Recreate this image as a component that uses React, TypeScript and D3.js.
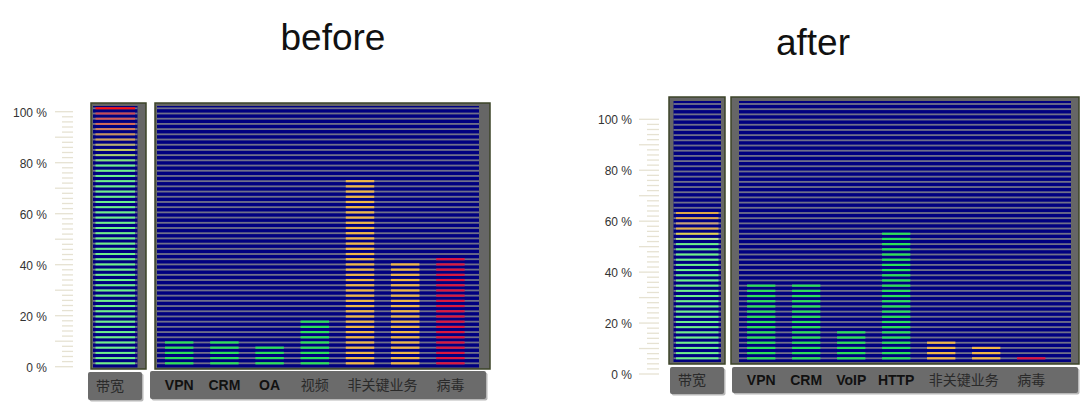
import * as d3 from "d3";

// values, in percent (one LED row = 2 %)
const axisTicks = [0, 20, 40, 60, 80, 100];

const beforeCategories = ["VPN", "CRM", "OA", "视频", "非关键业务", "非关键业务", "病毒"];
const beforeValues = [10, 10, 8, 18, 72, 40, 42];
const beforeBandwidth = 100;

const afterCategories = ["VPN", "CRM", "VoIP", "HTTP", "非关键业务", "非关键业务", "病毒"];
const afterValues = [30, 30, 12, 50, 8, 6, 2];
const afterBandwidth = 58;

const ROW_VALUES = d3.range(2, 101, 2);

const NAVY = "#000080";
const ROW_GRAY = "#6f6f8a";
const PANEL_GRAY = "#666666";
const PANEL_BORDER = "#3d4428";
const GREEN = "#2fe05a";
const BW_GREEN = "#6cf08c";
const LATIN = "'Liberation Sans', Arial, sans-serif";
const CJK = "'Noto Sans CJK SC', sans-serif";

const barColor = (label: string) =>
  label === "病毒" ? "#dc1840" : label === "非关键业务" ? "#f0b848" : GREEN;

// bandwidth meter colours, by row value
const beforeBwColor = d3
  .scaleLinear<string>()
  .domain([78, 80, 82, 84, 86, 88, 90, 92, 94, 96, 98, 100])
  .range([BW_GREEN, "#80e080", "#a8d070", "#c4c860", "#b8b070", "#d0a060", "#c89060", "#d08060", "#d46a58", "#d05a5a", "#c84858", "#ff1010"])
  .clamp(true);

const afterBwColor = d3
  .scaleLinear<string>()
  .domain([46, 48, 50, 52, 54, 56, 58])
  .range([BW_GREEN, "#b8e090", "#e0d050", "#e0b050", "#c8a078", "#e0a850", "#e0a848"])
  .clamp(true);

type Box = { x0: number; y0: number; x1: number; y1: number };

type Layout = {
  title: { x: number; y: number };
  axis: { labelX: number; majorX: number; minorX: number; tickEnd: number; y0: number; y100: number };
  rows: { bottom: number; top: number };
  bwOuter: Box;
  bwNavy: Box;
  mainOuter: Box;
  mainNavy: Box;
  bandStart: number;
  bandStep: number;
  bwLabel: Box;
  mainLabel: Box;
};

const BEFORE: Layout = {
  title: { x: 333, y: 50 },
  axis: { labelX: 47, majorX: 55, minorX: 62, tickEnd: 73, y0: 366.7, y100: 111.7 },
  rows: { bottom: 363.3, top: 108.3 },
  bwOuter: { x0: 91, y0: 103, x1: 146, y1: 369 },
  bwNavy: { x0: 93, y0: 106, x1: 137.5, y1: 367.5 },
  mainOuter: { x0: 155, y0: 103, x1: 490, y1: 369 },
  mainNavy: { x0: 157, y0: 106, x1: 479, y1: 367.5 },
  bandStart: 156.6,
  bandStep: 45.2,
  bwLabel: { x0: 88, y0: 372, x1: 142, y1: 400 },
  mainLabel: { x0: 150, y0: 371, x1: 486, y1: 399 },
};

const AFTER: Layout = {
  title: { x: 813, y: 55 },
  axis: { labelX: 632, majorX: 639, minorX: 647, tickEnd: 659, y0: 374, y100: 119.3 },
  rows: { bottom: 358.3, top: 104 },
  bwOuter: { x0: 669, y0: 97, x1: 725, y1: 364 },
  bwNavy: { x0: 673.5, y0: 101, x1: 721, y1: 362 },
  mainOuter: { x0: 731, y0: 97, x1: 1079, y1: 364 },
  mainNavy: { x0: 739, y0: 101, x1: 1071, y1: 362 },
  bandStart: 738.7,
  bandStep: 45,
  bwLabel: { x0: 670, y0: 367, x1: 724, y1: 394 },
  mainLabel: { x0: 732, y0: 367, x1: 1078, y1: 393 },
};

const rect = (b: Box, props: any) => (
  <rect x={b.x0} y={b.y0} width={b.x1 - b.x0} height={b.y1 - b.y0} {...props} />
);

const isLatin = (s: string) => /^[A-Za-z]+$/.test(s);

type PanelProps = {
  layout: Layout;
  title: string;
  categories: string[];
  values: number[];
  bandwidth: number;
  bwColor: (v: number) => string;
};

const Panel = ({ layout, title, categories, values, bandwidth, bwColor }: PanelProps) => {
  const { axis, rows } = layout;

  const yAxis = d3.scaleLinear().domain([0, 100]).range([axis.y0, axis.y100]);
  const yRow = d3.scaleLinear().domain([2, 100]).range([rows.bottom, rows.top]);

  const xScale = d3
    .scaleBand<number>()
    .domain(d3.range(categories.length))
    .range([layout.bandStart, layout.bandStart + layout.bandStep * categories.length])
    .paddingInner(0.37)
    .paddingOuter(0.185);

  // merge neighbouring bars that share one label
  const labelGroups: { label: string; from: number; to: number }[] = [];
  categories.forEach((c, i) => {
    const last = labelGroups[labelGroups.length - 1];
    if (last && last.label === c) last.to = i;
    else labelGroups.push({ label: c, from: i, to: i });
  });

  const minorTicks = d3.range(0, 101, 2);
  const lineH = 1.8;
  const litH = 2.2;

  return (
    <g>
      <text
        x={layout.title.x}
        y={layout.title.y}
        textAnchor="middle"
        fontFamily={LATIN}
        fontSize={37}
        fill="#111"
      >
        {title}
      </text>

      {/* Y axis */}
      {minorTicks.map((t) => (
        <line
          key={t}
          x1={t % 10 === 0 ? axis.majorX : axis.minorX}
          x2={axis.tickEnd}
          y1={yAxis(t)}
          y2={yAxis(t)}
          stroke="#e6e2d2"
          strokeWidth={1.3}
        />
      ))}
      {axisTicks.map((t) => (
        <text
          key={t}
          x={axis.labelX}
          y={yAxis(t) + 2}
          textAnchor="end"
          dominantBaseline="middle"
          fontFamily={LATIN}
          fontSize={12}
          fill="#333"
        >
          {`${t} %`}
        </text>
      ))}

      {/* bandwidth meter */}
      {rect(layout.bwOuter, { fill: PANEL_GRAY, stroke: PANEL_BORDER, strokeWidth: 1.5 })}
      {rect(layout.bwNavy, { fill: NAVY })}
      {ROW_VALUES.map((v) => (
        <rect
          key={v}
          x={layout.bwNavy.x0}
          width={layout.bwNavy.x1 - layout.bwNavy.x0}
          y={yRow(v) - lineH / 2}
          height={lineH}
          fill={ROW_GRAY}
        />
      ))}
      {ROW_VALUES.filter((v) => v <= bandwidth).map((v) => (
        <rect
          key={v}
          x={layout.bwNavy.x0 + 2.5}
          width={layout.bwNavy.x1 - layout.bwNavy.x0 - 5}
          y={yRow(v) - 1}
          height={2}
          fill={bwColor(v)}
        />
      ))}

      {/* traffic panel */}
      {rect(layout.mainOuter, { fill: PANEL_GRAY, stroke: PANEL_BORDER, strokeWidth: 1.5 })}
      {rect(layout.mainNavy, { fill: NAVY })}
      {ROW_VALUES.map((v) => (
        <rect
          key={v}
          x={layout.mainNavy.x0}
          width={layout.mainNavy.x1 - layout.mainNavy.x0}
          y={yRow(v) - lineH / 2}
          height={lineH}
          fill={ROW_GRAY}
        />
      ))}
      {values.map((val, i) => (
        <g key={i}>
          {ROW_VALUES.filter((v) => v <= val).map((v) => (
            <rect
              key={v}
              x={xScale(i)}
              width={xScale.bandwidth()}
              y={yRow(v) - litH / 2}
              height={litH}
              fill={barColor(categories[i])}
            />
          ))}
        </g>
      ))}

      {/* label plates */}
      {rect({ ...layout.bwLabel, x0: layout.bwLabel.x0 + 1.5, y0: layout.bwLabel.y0 + 1.5, x1: layout.bwLabel.x1 + 1.5, y1: layout.bwLabel.y1 + 1.5 }, { fill: "#b8b8b8", rx: 2 })}
      {rect(layout.bwLabel, { fill: "#6b6b6b", rx: 2 })}
      <text
        x={layout.bwLabel.x0 + 8}
        y={(layout.bwLabel.y0 + layout.bwLabel.y1) / 2 + 1}
        dominantBaseline="middle"
        fontFamily={CJK}
        fontSize={14}
        fill="#2a2a2a"
      >
        带宽
      </text>

      {rect({ ...layout.mainLabel, x0: layout.mainLabel.x0 + 1.5, y0: layout.mainLabel.y0 + 1.5, x1: layout.mainLabel.x1 + 1.5, y1: layout.mainLabel.y1 + 1.5 }, { fill: "#b8b8b8", rx: 2 })}
      {rect(layout.mainLabel, { fill: "#6b6b6b", rx: 2 })}
      {labelGroups.map((g) => {
        const cx = ((xScale(g.from) as number) + (xScale(g.to) as number) + xScale.bandwidth()) / 2;
        const latin = isLatin(g.label);
        return (
          <text
            key={g.label}
            x={cx}
            y={(layout.mainLabel.y0 + layout.mainLabel.y1) / 2 + 1}
            textAnchor="middle"
            dominantBaseline="middle"
            fontFamily={latin ? LATIN : CJK}
            fontWeight={latin ? "bold" : "normal"}
            fontSize={14}
            fill={latin ? "#111" : "#2a2a2a"}
          >
            {g.label}
          </text>
        );
      })}
    </g>
  );
};

export default function App() {
  return (
    <svg
      width={1080}
      height={404}
      style={{ position: "absolute", left: 0, top: 0, background: "#fff" }}
    >
      <Panel
        layout={BEFORE}
        title="before"
        categories={beforeCategories}
        values={beforeValues}
        bandwidth={beforeBandwidth}
        bwColor={beforeBwColor}
      />
      <Panel
        layout={AFTER}
        title="after"
        categories={afterCategories}
        values={afterValues}
        bandwidth={afterBandwidth}
        bwColor={afterBwColor}
      />
    </svg>
  );
}
